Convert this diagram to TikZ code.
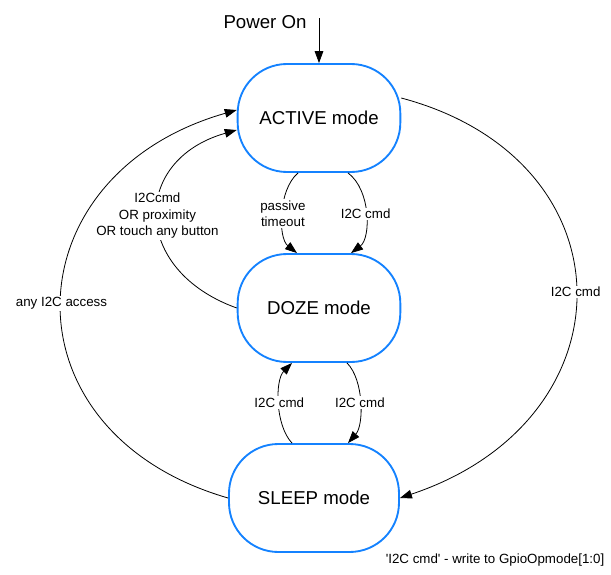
\documentclass[tikz,border=0pt]{standalone}
\usepackage{fontspec}
\setmainfont{Liberation Sans}[Ligatures=TeXOff]
\usetikzlibrary{arrows.meta}
\definecolor{modeblue}{RGB}{20,130,255}
\begin{document}
\begin{tikzpicture}[x=0.75pt,y=-0.75pt,%
% common options for the mode boxes:
modebox/.style = {draw=modeblue, line width=1.4pt, rounded corners=37pt,
            minimum width=122pt, minimum height=81pt, inner sep=0,
            font=\fontsize{14}{17}\selectfont},
% common options for the transition labels:
lbl/.style = {fill=white, align=center, inner sep=1pt,
            font=\fontsize{10}{12.4}\selectfont},
% common options for the arrows:
arr/.style = {-{Triangle[length=9pt,width=6.5pt]}, line width=0.6pt}]
\useasboundingbox (0,0) rectangle (611,575);
\node[modebox] (active) at (319,118) {ACTIVE mode};
\node[modebox] (doze) at (319,308) {DOZE mode};
\node[modebox, minimum width=127.5pt] (sleep) at (314,498) {SLEEP mode};
\node[font=\fontsize{14}{17}\selectfont] (pwrtxt) at (265,22) {Power On};
\coordinate (pwr) at (319,18);
\node[font=\fontsize{10}{12}\selectfont, anchor=east] (note) at (609,560) {'I2C cmd' - write to GpioOpmode[1:0]};
\draw[arr] (pwr) to (active.north);
\draw[arr] ([shift={(-21,0)}]active.south) .. controls (278,190) and (278,238) .. node[lbl] {passive\\timeout} ([shift={(-22,0)}]doze.north);
\draw[arr] ([shift={(29,0)}]active.south) .. controls (371,190) and (371,238) .. node[lbl] {I2C cmd} ([shift={(32,0)}]doze.north);
\draw[arr] (doze.west) .. controls (131,270) and (131,160) .. node[lbl] {I2Ccmd\\OR proximity\\OR touch any button} ([shift={(0,12)}]active.west);
\draw[arr] (sleep.west) .. controls (0,432) and (9,175) .. node[lbl] {any I2C access} ([shift={(0,-8)}]active.west);
\draw[arr] ([shift={(0,-20)}]active.east) .. controls (634,160) and (634,420) .. node[lbl] {I2C cmd} (sleep.east);
\draw[arr] ([shift={(28,0)}]doze.south) .. controls (364,380) and (364,425) .. node[lbl] {I2C cmd} ([shift={(34,0)}]sleep.north);
\draw[arr] ([shift={(-22,0)}]sleep.north) .. controls (275,425) and (275,380) .. node[lbl] {I2C cmd} ([shift={(-27,0)}]doze.south);
\end{tikzpicture}
\end{document}
